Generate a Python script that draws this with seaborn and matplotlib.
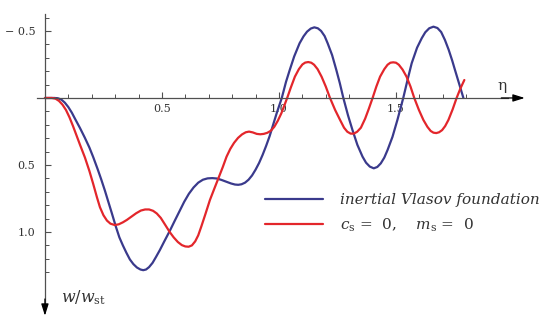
import numpy as np
import pandas as pd
import matplotlib
matplotlib.use("Agg")
import matplotlib.pyplot as plt
import seaborn as sns

# ---- data ----
blue_eta = [0.000, 0.040, 0.055, 0.070, 0.085, 0.100, 0.115, 0.130, 0.150, 0.170, 0.190, 0.206,
            0.225, 0.240, 0.256, 0.270, 0.285, 0.303, 0.318, 0.333, 0.348, 0.363, 0.378, 0.393,
            0.408, 0.420, 0.432, 0.445, 0.460, 0.475, 0.491, 0.510, 0.534, 0.555, 0.575, 0.595,
            0.615, 0.635, 0.655, 0.675, 0.695, 0.715, 0.735, 0.755, 0.775, 0.795, 0.812, 0.826,
            0.840, 0.855, 0.870, 0.885, 0.900, 0.915, 0.930, 0.945, 0.960, 0.975, 0.990, 1.012,
            1.030, 1.046, 1.065, 1.088, 1.105, 1.120, 1.136, 1.151, 1.166, 1.180, 1.195, 1.208,
            1.227, 1.245, 1.260, 1.275, 1.295, 1.314, 1.335, 1.357, 1.372, 1.388, 1.405, 1.420,
            1.435, 1.450, 1.464, 1.485, 1.506, 1.531, 1.550, 1.567, 1.590, 1.610, 1.625, 1.642,
            1.660, 1.677, 1.693, 1.709, 1.725, 1.740, 1.752, 1.770, 1.788]
blue_w = [0.000, 0.000, 0.002, 0.012, 0.035, 0.068, 0.110, 0.160, 0.225, 0.295, 0.370, 0.440,
          0.530, 0.605, 0.690, 0.770, 0.855, 0.960, 1.040, 1.100, 1.155, 1.205, 1.240, 1.265,
          1.280, 1.285, 1.280, 1.262, 1.230, 1.185, 1.135, 1.070, 0.990, 0.915, 0.845, 0.775,
          0.715, 0.668, 0.632, 0.610, 0.600, 0.598, 0.601, 0.612, 0.625, 0.638, 0.646, 0.648,
          0.644, 0.632, 0.610, 0.578, 0.535, 0.485, 0.425, 0.358, 0.285, 0.200, 0.115, 0.000,
          -0.120, -0.209, -0.310, -0.408, -0.460, -0.495, -0.518, -0.527, -0.520, -0.500, -0.462, -0.408,
          -0.320, -0.209, -0.110, 0.000, 0.130, 0.239, 0.350, 0.438, 0.483, 0.512, 0.525, 0.515,
          0.488, 0.445, 0.388, 0.290, 0.164, 0.000, -0.140, -0.259, -0.375, -0.446, -0.490, -0.520,
          -0.532, -0.522, -0.492, -0.433, -0.360, -0.280, -0.209, -0.105, 0.000]

red_eta = [0.000, 0.030, 0.045, 0.060, 0.075, 0.090, 0.105, 0.120, 0.135, 0.150, 0.171, 0.190,
           0.206, 0.222, 0.235, 0.250, 0.265, 0.280, 0.298, 0.315, 0.333, 0.350, 0.370, 0.390,
           0.410, 0.428, 0.445, 0.462, 0.478, 0.495, 0.515, 0.533, 0.550, 0.568, 0.585, 0.600,
           0.614, 0.628, 0.642, 0.655, 0.668, 0.685, 0.705, 0.723, 0.741, 0.760, 0.776, 0.792,
           0.808, 0.825, 0.842, 0.858, 0.872, 0.888, 0.905, 0.920, 0.935, 0.950, 0.965, 0.980,
           0.995, 1.010, 1.022, 1.035, 1.050, 1.068, 1.085, 1.100, 1.112, 1.125, 1.138, 1.150,
           1.165, 1.182, 1.200, 1.218, 1.240, 1.261, 1.278, 1.292, 1.306, 1.320, 1.334, 1.350,
           1.368, 1.384, 1.400, 1.416, 1.432, 1.450, 1.464, 1.476, 1.488, 1.500, 1.512, 1.528,
           1.545, 1.562, 1.578, 1.598, 1.617, 1.634, 1.648, 1.660, 1.672, 1.684, 1.697, 1.710,
           1.724, 1.742, 1.759, 1.775, 1.792]
red_w = [0.000, 0.000, 0.005, 0.022, 0.050, 0.090, 0.145, 0.210, 0.280, 0.350, 0.445, 0.545,
         0.640, 0.740, 0.815, 0.875, 0.915, 0.938, 0.948, 0.943, 0.928, 0.910, 0.885, 0.860,
         0.840, 0.832, 0.832, 0.842, 0.862, 0.895, 0.950, 1.000, 1.040, 1.075, 1.098, 1.108,
         1.110, 1.100, 1.070, 1.025, 0.960, 0.870, 0.761, 0.680, 0.600, 0.515, 0.438, 0.380,
         0.335, 0.298, 0.272, 0.256, 0.251, 0.257, 0.268, 0.271, 0.268, 0.260, 0.245, 0.215,
         0.170, 0.115, 0.060, 0.000, -0.075, -0.159, -0.215, -0.250, -0.264, -0.268, -0.263, -0.248,
         -0.215, -0.159, -0.085, 0.000, 0.090, 0.164, 0.222, 0.252, 0.266, 0.266, 0.252, 0.222,
         0.155, 0.080, 0.000, -0.085, -0.159, -0.215, -0.248, -0.263, -0.266, -0.263, -0.248, -0.212,
         -0.159, -0.085, 0.000, 0.090, 0.164, 0.215, 0.246, 0.259, 0.262, 0.256, 0.240, 0.210,
         0.164, 0.085, 0.000, -0.070, -0.134]

series_names = ["inertial Vlasov foundation",
                r"$c_{\mathrm{s}}$ =  0,    $m_{\mathrm{s}}$ =  0"]

x_major = [0.5, 1.0, 1.5]
x_major_labels = ["0.5", "1.0", "1.5"]
y_major = [-0.5, 0.5, 1.0]
y_major_labels = ["\u2212 0.5", "0.5", "1.0"]

# ---- build table ----
df = pd.concat([
    pd.DataFrame({"eta": blue_eta, "w": blue_w, "series": series_names[0]}),
    pd.DataFrame({"eta": red_eta, "w": red_w, "series": series_names[1]}),
], ignore_index=True)

sns.set_style("white")
plt.rcParams["font.family"] = ["DejaVu Serif"]
plt.rcParams["mathtext.fontset"] = "dejavuserif"

BLUE = "#3a3a8c"
RED = "#e3262b"
AX = "#505050"

fig = plt.figure(figsize=(5.5, 3.27), dpi=100)
ax = fig.add_axes([0, 0, 1, 1])
ax.set_facecolor("white")

sns.lineplot(data=df, x="eta", y="w", hue="series", palette=[BLUE, RED],
             estimator=None, sort=False, linewidth=1.6, legend=False, ax=ax)
for ln in ax.get_lines():
    ln.set_solid_joinstyle("round")
    ln.set_solid_capstyle("round")

ax.set_xlim(-0.192, 2.158)
ax.set_ylim(1.709, -0.731)

# axes through origin
for s in ["top", "right"]:
    ax.spines[s].set_visible(False)
ax.spines["left"].set_position(("data", 0))
ax.spines["bottom"].set_position(("data", 0))
ax.spines["left"].set_bounds(-0.63, 1.56)
ax.spines["bottom"].set_bounds(-0.034, 1.98)
for s in ["left", "bottom"]:
    ax.spines[s].set_color(AX)
    ax.spines[s].set_linewidth(0.9)

ax.annotate("", xy=(2.05, 0), xytext=(1.95, 0),
            arrowprops=dict(arrowstyle="-|>,head_length=0.7,head_width=0.22",
                            color="black", lw=0.9, shrinkA=0, shrinkB=0))
ax.annotate("", xy=(0, 1.625), xytext=(0, 1.5),
            arrowprops=dict(arrowstyle="-|>,head_length=0.7,head_width=0.22",
                            color="black", lw=0.9, shrinkA=0, shrinkB=0))

ax.set_xticks(x_major)
ax.set_xticklabels(x_major_labels)
ax.set_xticks([round(0.1 * i, 1) for i in range(1, 19) if i not in (5, 10, 15)], minor=True)
ax.set_yticks(y_major)
ax.set_yticklabels(y_major_labels)
ax.set_yticks([round(0.1 * i, 1) for i in range(-6, 14) if i not in (-5, 0, 5, 10)], minor=True)

ax.tick_params(axis="both", which="both", bottom=True, left=True, top=False, right=False)
ax.tick_params(axis="both", which="major", direction="in", length=4.5, width=0.8,
               colors=AX, labelcolor="#333333", labelsize=8)
ax.tick_params(axis="both", which="minor", direction="in", length=3, width=0.7, colors=AX)
ax.tick_params(axis="x", which="major", pad=4)
ax.tick_params(axis="y", which="major", pad=7)

ax.set_xlabel("")
ax.set_ylabel("")

# axis titles
ax.text(1.953, -0.09, "\u03b7", fontsize=11, color="#333333",
        ha="center", va="center")
ax.text(0.07, 1.49, r"$w/w_{\mathrm{st}}$", fontsize=11.5, color="#333333",
        ha="left", va="center")

# legend
handles = ax.get_lines()[:2]
leg = ax.legend(handles, series_names, loc="center left",
                bbox_to_anchor=(265 / 550, 1 - 213.5 / 327), frameon=False,
                handlelength=3.8, handletextpad=1.1, labelspacing=0.58,
                borderpad=0, borderaxespad=0, fontsize=11)
texts = leg.get_texts()
texts[0].set_style("italic")
for t in texts:
    t.set_color("#333333")

fig.savefig("out.png", dpi=100, facecolor="white")
